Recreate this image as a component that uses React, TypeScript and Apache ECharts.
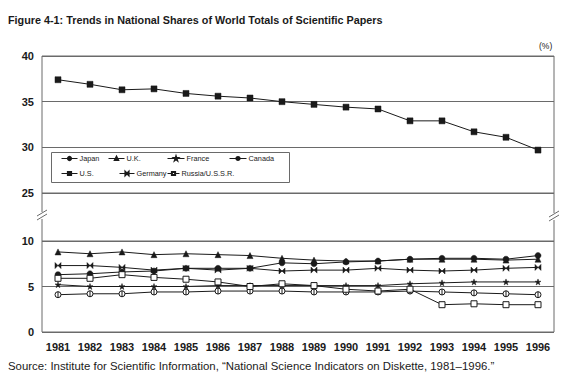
import React, { useEffect, useRef } from "react";
import * as echarts from "echarts";

const years = ["1981","1982","1983","1984","1985","1986","1987","1988","1989","1990","1991","1992","1993","1994","1995","1996"];
const usData = [37.4, 36.9, 36.3, 36.4, 35.9, 35.6, 35.4, 35.0, 34.7, 34.4, 34.2, 32.9, 32.9, 31.7, 31.1, 29.7];
const japanData = [6.3, 6.4, 6.6, 6.7, 7.0, 7.0, 7.0, 7.6, 7.5, 7.7, 7.8, 8.0, 8.1, 8.1, 8.0, 8.4];
const ukData = [8.8, 8.6, 8.8, 8.5, 8.6, 8.5, 8.4, 8.1, 7.9, 7.8, 7.8, 8.0, 8.0, 8.0, 7.9, 8.0];
const franceData = [5.2, 5.0, 5.0, 5.0, 5.0, 5.1, 5.1, 5.1, 5.1, 5.1, 5.1, 5.3, 5.4, 5.5, 5.5, 5.5];
const canadaData = [4.1, 4.2, 4.2, 4.4, 4.4, 4.5, 4.5, 4.5, 4.4, 4.4, 4.4, 4.5, 4.4, 4.3, 4.2, 4.1];
const germanyData = [7.3, 7.3, 7.1, 6.8, 7.0, 6.8, 7.0, 6.7, 6.8, 6.8, 7.0, 6.8, 6.7, 6.8, 7.0, 7.1];
const russiaData = [5.9, 5.9, 6.3, 6.0, 5.8, 5.5, 5.0, 5.3, 5.1, 4.7, 4.5, 4.7, 3.0, 3.1, 3.0, 3.0];
const topTicks = [25, 40, 5];
const bottomTicks = [0, 10, 5];

const FONT = "Liberation Sans, Arial, sans-serif";
const INK = "#1a1a1a";
const FRAME = "#6a6a6a";

const STAR = "path://M5,0L6.2,3.6L10,3.6L6.9,5.8L8.1,9.5L5,7.2L1.9,9.5L3.1,5.8L0,3.6L3.8,3.6Z";
const BOWTIE = "path://M0,0L10,10L10,0L0,10Z";
const CIRCBAR = "path://M5,0A5,5 0 1,1 5,10A5,5 0 1,1 5,0ZM5,0L5,10";

export default function App() {
  const ref = useRef<HTMLDivElement>(null);
  useEffect(() => {
    document.body.style.margin = "0";
    const chart = echarts.init(ref.current!, null, { renderer: "svg" });
    const mk = (name: string, data: number[], symbol: string, size: number, hollow: boolean, top = false) => ({
      name,
      type: "line",
      data,
      xAxisIndex: top ? 0 : 1,
      yAxisIndex: top ? 0 : 1,
      symbol,
      symbolSize: size,
      showSymbol: true,
      lineStyle: { color: INK, width: 1 },
      itemStyle: hollow
        ? { color: "#fff", borderColor: INK, borderWidth: 1 }
        : { color: INK, borderColor: INK, borderWidth: 0.5 },
      emphasis: { disabled: true },
    });
    // [name, left, top, iconWidth]
    const legendPos: [string, number, number, number][] = [
      ["Japan", 61, 155, 16],
      ["U.K.", 108, 155, 16],
      ["France", 167, 155, 17],
      ["Canada", 229, 155, 17],
      ["U.S.", 61, 170, 16],
      ["Germany", 119, 170, 15],
      ["Russia/U.S.S.R.", 167, 170, 12],
    ];
    chart.setOption({
      animation: false,
      backgroundColor: "#fff",
      title: [
        {
          text: "Figure 4-1: Trends in National Shares of World Totals of Scientific Papers",
          left: 8,
          top: 14,
          padding: 0,
          textStyle: { fontFamily: FONT, fontSize: 10.8, fontWeight: "bold", color: INK },
        },
        {
          text: "Source: Institute for Scientific Information, \u201cNational Science Indicators on Diskette, 1981\u20131996.\u201d",
          left: 8,
          top: 360,
          padding: 0,
          textStyle: { fontFamily: FONT, fontSize: 11.4, fontWeight: "normal", color: INK },
        },
        {
          text: "(%)",
          left: 539,
          top: 41,
          padding: 0,
          textStyle: { fontFamily: FONT, fontSize: 8.5, fontWeight: "normal", color: INK },
        },
      ],
      legend: legendPos.map(([n, x, y, w]) => ({
        data: [n],
        left: x,
        top: y,
        padding: 0,
        itemWidth: w,
        itemHeight: 4,
        itemGap: 0,
        lineStyle: { width: 1 },
        textStyle: { fontFamily: FONT, fontSize: 7.3, color: INK, padding: [0, 0, 0, -3] },
        selectedMode: false,
      })),
      grid: [
        { left: 42, right: 33, top: 56, height: 137, show: true, borderColor: FRAME, borderWidth: 1, backgroundColor: "transparent" },
        { left: 42, right: 33, top: 241, height: 91, show: true, borderColor: FRAME, borderWidth: 1, backgroundColor: "transparent" },
      ],
      xAxis: [
        {
          type: "category", data: years, gridIndex: 0, boundaryGap: true,
          axisLine: { show: false }, axisTick: { show: false }, axisLabel: { show: false }, splitLine: { show: false },
        },
        {
          type: "category", data: years, gridIndex: 1, boundaryGap: true,
          axisLine: { show: false }, axisTick: { show: false }, splitLine: { show: false },
          axisLabel: { fontFamily: FONT, fontSize: 11, fontWeight: "bold", color: INK, margin: 9, interval: 0 },
        },
      ],
      yAxis: [
        {
          type: "value", gridIndex: 0, min: topTicks[0], max: topTicks[1], interval: topTicks[2],
          axisLine: { show: false }, axisTick: { show: false },
          splitLine: { lineStyle: { color: FRAME, width: 1 } },
          axisLabel: { fontFamily: FONT, fontSize: 11, fontWeight: "bold", color: INK, margin: 8 },
        },
        {
          type: "value", gridIndex: 1, min: bottomTicks[0], max: bottomTicks[1], interval: bottomTicks[2],
          axisLine: { show: false }, axisTick: { show: false },
          splitLine: { lineStyle: { color: FRAME, width: 1 } },
          axisLabel: { fontFamily: FONT, fontSize: 11, fontWeight: "bold", color: INK, margin: 8 },
        },
      ],
      graphic: [
        { type: "rect", shape: { x: 51.5, y: 152.5, width: 238, height: 30 }, style: { fill: "#fff", stroke: FRAME, lineWidth: 1 }, z: 0, zlevel: 0 },
        { type: "line", shape: { x1: 42, y1: 193, x2: 42, y2: 212 }, style: { stroke: FRAME, lineWidth: 1 } },
        { type: "line", shape: { x1: 42, y1: 219, x2: 42, y2: 241 }, style: { stroke: FRAME, lineWidth: 1 } },
        { type: "line", shape: { x1: 554, y1: 193, x2: 554, y2: 213 }, style: { stroke: FRAME, lineWidth: 1 } },
        { type: "line", shape: { x1: 554, y1: 220, x2: 554, y2: 241 }, style: { stroke: FRAME, lineWidth: 1 } },
        { type: "line", shape: { x1: 37, y1: 216, x2: 47, y2: 210 }, style: { stroke: FRAME, lineWidth: 1 } },
        { type: "line", shape: { x1: 37, y1: 220, x2: 47, y2: 214 }, style: { stroke: FRAME, lineWidth: 1 } },
        { type: "line", shape: { x1: 549, y1: 217, x2: 559, y2: 211 }, style: { stroke: FRAME, lineWidth: 1 } },
        { type: "line", shape: { x1: 549, y1: 221, x2: 559, y2: 215 }, style: { stroke: FRAME, lineWidth: 1 } },
      ],
      series: [
        mk("Japan", japanData, "circle", 6, false),
        mk("U.K.", ukData, "triangle", 6, false),
        mk("France", franceData, STAR, 6, false),
        mk("Canada", canadaData, CIRCBAR, 6, true),
        mk("U.S.", usData, "rect", 6, false, true),
        mk("Germany", germanyData, BOWTIE, 6, false),
        mk("Russia/U.S.S.R.", russiaData, "rect", 6, true),
      ],
    });
    return () => chart.dispose();
  }, []);
  return <div ref={ref} style={{ width: 587, height: 383 }} />;
}
